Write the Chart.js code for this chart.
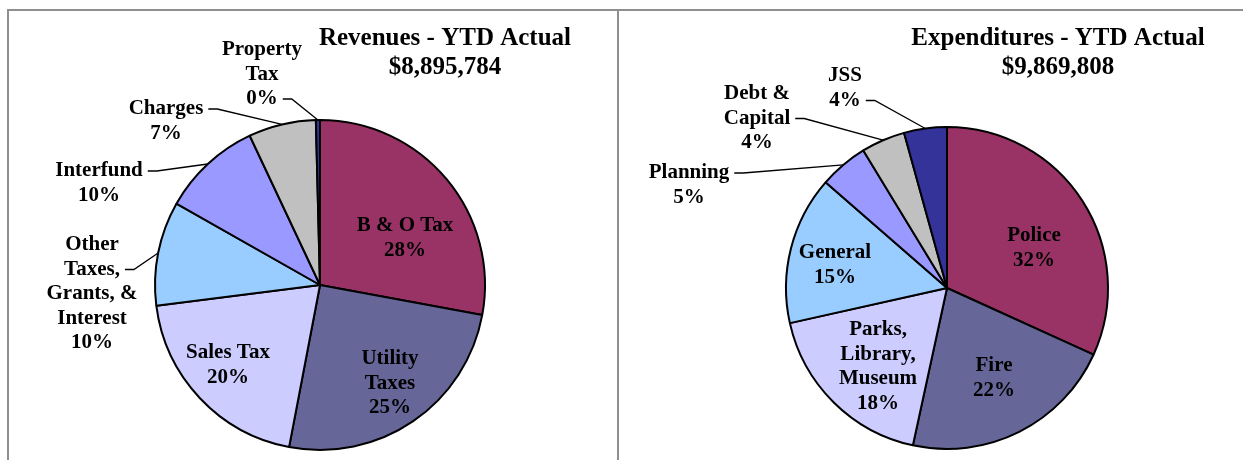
<!DOCTYPE html>
<html>
<head>
<meta charset="utf-8">
<title>YTD Actual</title>
<script src="https://cdn.jsdelivr.net/npm/chart.js@4.4.1/dist/chart.umd.min.js"></script>
<style>
	body { margin: 0; background: #fff; }
	#page { position: relative; width: 1243px; height: 460px; overflow: hidden; }
	.rule { position: absolute; background: #8f8f8f; }
	canvas { position: absolute; top: 0; }
</style>
</head>
<body>
<div id="page">
	<div class="rule" style="left:7px;top:9px;width:1236px;height:2px"></div>
	<div class="rule" style="left:7px;top:9px;width:2px;height:451px"></div>
	<div class="rule" style="left:617px;top:9px;width:2px;height:451px"></div>
	<canvas id="revenues" width="618" height="460" style="left:0"></canvas>
	<canvas id="expenditures" width="625" height="460" style="left:618px"></canvas>
</div>
<script>
// Revenue sources, clockwise from 12 o'clock
let revenueLabels = [['B & O Tax'], ['Utility', 'Taxes'], ['Sales Tax'], ['Other', 'Taxes,', 'Grants, &', 'Interest'], ['Interfund'], ['Charges'], ['Property', 'Tax']];
let revenueAmounts = [2481923, 2232842, 1779157, 907370, 871787, 587122, 35583];

// Expenditures by department, clockwise from 12 o'clock
let expenditureLabels = [['Police'], ['Fire'], ['Parks,', 'Library,', 'Museum'], ['General'], ['Planning'], ['Debt &', 'Capital'], ['JSS']];
let expenditureAmounts = [3138599, 2131879, 1786435, 1470601, 483621, 434272, 424401];

let sliceColors = ['#993366', '#666699', '#CCCCFF', '#99CCFF', '#9999FF', '#C0C0C0', '#333399'];

// where each label block sits, relative to the pie centre; leader = line the callout starts from
let revenuePlacement = [
	{dx: 85, dy: -59}, {dx: 70, dy: 74}, {dx: -92, dy: 68},
	{dx: -228, dy: -40, leader: 1}, {dx: -221, dy: -114, leader: 0},
	{dx: -154, dy: -176, leader: 0}, {dx: -58, dy: -235, leader: 2}
];
let expenditurePlacement = [
	{dx: 87, dy: -52}, {dx: 47, dy: 78}, {dx: -69, dy: 42}, {dx: -112, dy: -35},
	{dx: -258, dy: -115, leader: 0}, {dx: -190, dy: -194, leader: 1}, {dx: -102, dy: -212, leader: 1}
];

const LINE = 24.5;

// Titles, slice labels with percentages and callout lines
const pieLabels = {
	id: 'pieLabels',
	afterDatasetsDraw(chart, args, opts) {
		const ctx = chart.ctx;
		const arcs = chart.getDatasetMeta(0).data;
		const values = chart.data.datasets[0].data;
		const total = values.reduce((a, b) => a + b, 0);
		ctx.save();
		ctx.fillStyle = '#000';
		ctx.strokeStyle = '#000';
		ctx.lineWidth = 1.3;
		ctx.textAlign = 'center';
		ctx.textBaseline = 'middle';

		ctx.font = 'bold 25px "Liberation Serif"';
		ctx.fillText(opts.title, opts.titleX, 39);
		ctx.fillText('$' + total.toLocaleString('en-US'), opts.titleX, 68);

		ctx.font = 'bold 21px "Liberation Serif"';
		arcs.forEach((arc, i) => {
			const lines = chart.data.labels[i].concat(Math.round(values[i] / total * 100) + '%');
			const place = opts.placement[i];
			const cx = arc.x + place.dx;
			const top = arc.y + place.dy;
			lines.forEach((t, k) => ctx.fillText(t, cx, top + k * LINE));

			if (place.leader != null) {
				const y = top + place.leader * LINE;
				const x0 = cx + ctx.measureText(lines[place.leader]).width / 2 + 5;
				const mid = (arc.startAngle + arc.endAngle) / 2;
				const ex = arc.x + Math.cos(mid) * arc.outerRadius;
				const ey = arc.y + Math.sin(mid) * arc.outerRadius;
				ctx.beginPath();
				ctx.moveTo(x0, y);
				ctx.lineTo(x0 + 9, y);
				ctx.lineTo(ex, ey);
				ctx.stroke();
			}
		});
		ctx.restore();
	}
};

function makePie(id, labels, amounts, title, titleX, placement, radius, pad){
	new Chart(document.getElementById(id), {
		type: 'pie',
		data: {
			labels: labels,
			datasets: [{
				data: amounts,
				backgroundColor: sliceColors,
				borderColor: '#000',
				borderWidth: 2,
				radius: radius
			}]
		},
		options: {
			responsive: false,
			animation: false,
			layout: {padding: pad},
			plugins: {
				legend: {display: false},
				tooltip: {enabled: false},
				pieLabels: {title: title, titleX: titleX, placement: placement}
			}
		},
		plugins: [pieLabels]
	});
}

makePie('revenues', revenueLabels, revenueAmounts, 'Revenues - YTD Actual', 445, revenuePlacement, 165,
	{left: 22, top: 110, right: 0, bottom: 0});
makePie('expenditures', expenditureLabels, expenditureAmounts, 'Expenditures - YTD Actual', 440, expenditurePlacement, 161,
	{left: 33, top: 116, right: 0, bottom: 0});
</script>
</body>
</html>
